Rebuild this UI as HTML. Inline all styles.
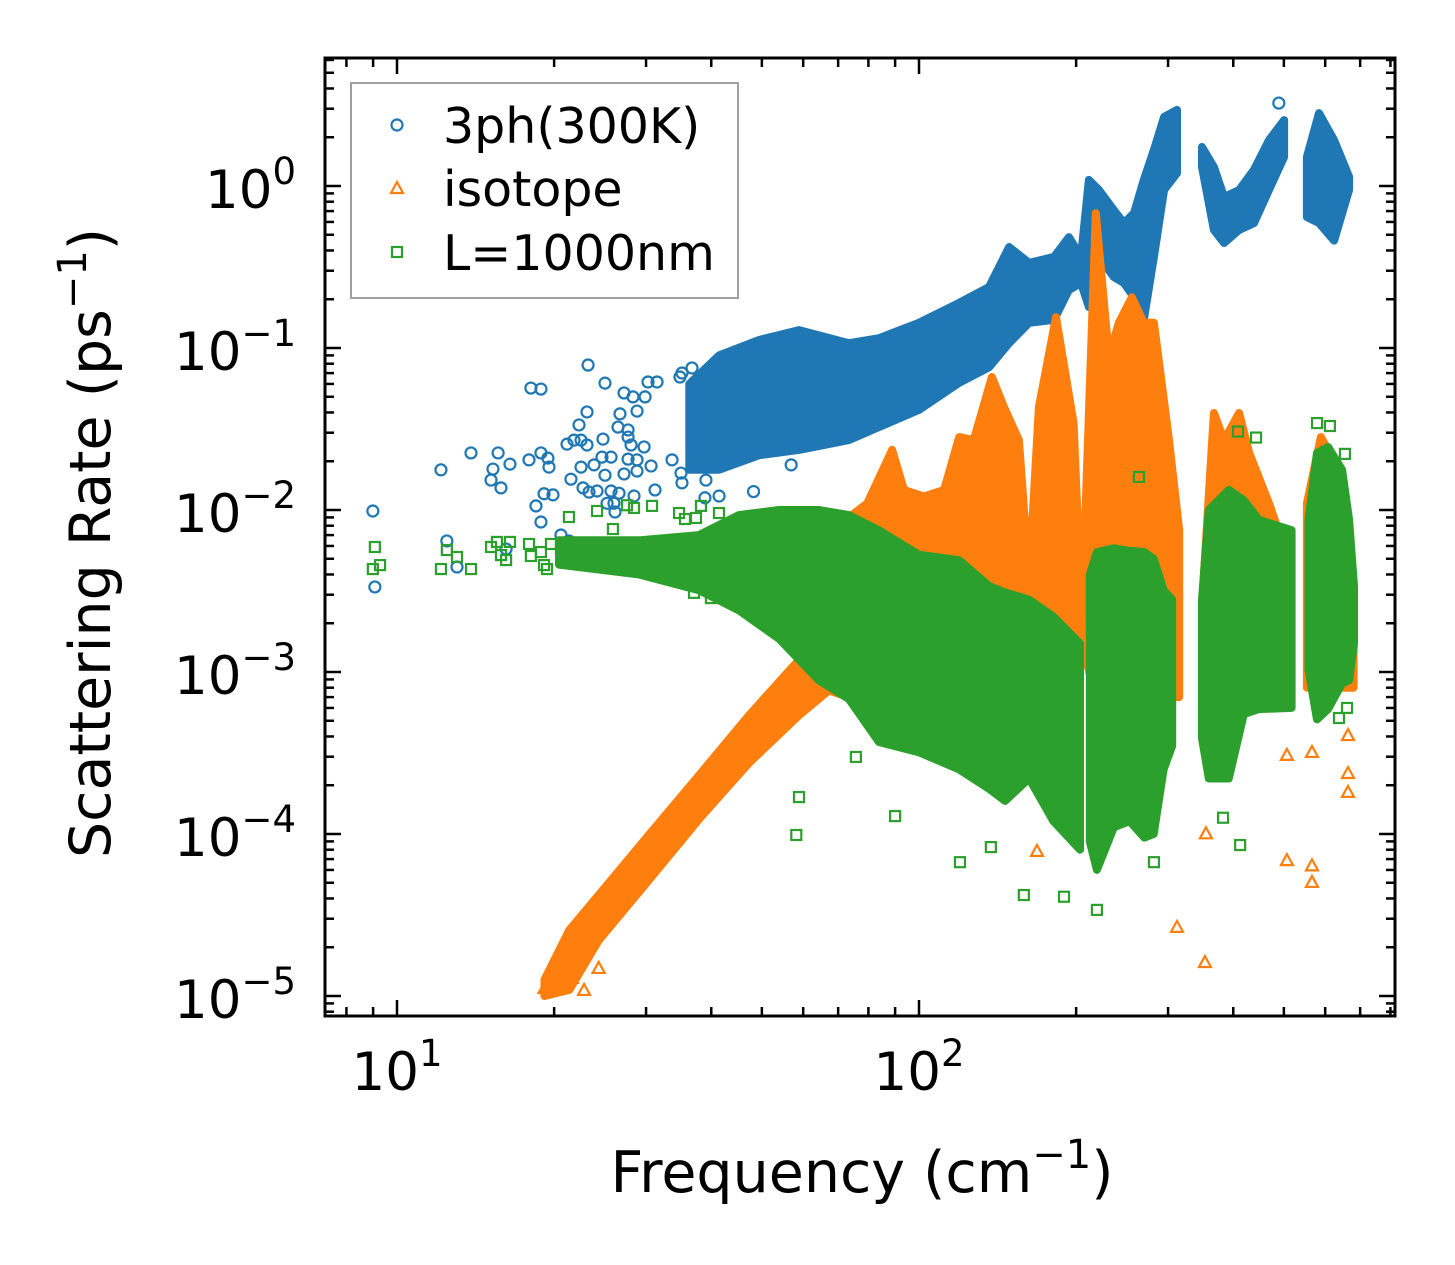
<!DOCTYPE html>
<html><head><meta charset="utf-8"><title>Scattering rate vs frequency</title>
<style>html,body{margin:0;padding:0;background:#fff}svg{display:block}text{font-family:"DejaVu Sans","Liberation Sans",sans-serif;fill:#000}</style>
</head><body>
<svg id="chart" xmlns="http://www.w3.org/2000/svg" width="1455" height="1265" viewBox="0 0 1455 1265">
<defs><clipPath id="plotclip"><rect x="325" y="58" width="1070" height="958"/></clipPath></defs>
<rect x="0" y="0" width="1455" height="1265" fill="#fff"/>
<g id="series" clip-path="url(#plotclip)"></g>
<g id="axes"></g>
<g id="legend">
<rect x="351" y="83" width="387" height="215" fill="#fff" fill-opacity="0.85" stroke="#a0a0a0" stroke-width="2"/>
<circle cx="397" cy="125" r="5.5" fill="none" stroke="#1f77b4" stroke-width="2.2"/>
<path d="M397,182 L403,193 L391,193 Z" fill="none" stroke="#ff7f0e" stroke-width="2.2"/>
<rect x="392" y="247" width="10" height="10" fill="none" stroke="#2ca02c" stroke-width="2.2"/>
<text x="443" y="143" font-size="49">3ph(300K)</text>
<text x="443" y="206" font-size="49">isotope</text>
<text x="443" y="270" font-size="49">L=1000nm</text>
</g>
<text x="862" y="1192" font-size="57" text-anchor="middle">Frequency (cm<tspan font-size="40" dy="-24">−1</tspan><tspan dy="24">)</tspan></text>
<text transform="translate(110,543) rotate(-90)" x="0" y="0" font-size="57" text-anchor="middle">Scattering Rate (ps<tspan font-size="40" dy="-24">−1</tspan><tspan dy="24">)</tspan></text>
</svg>
<script>
// ---- data ----
// 3ph(300K): dense bands (frequency, lower/upper rate) and isolated points
const blueBand1F=[36.3,41.4,49.4,58.9,73.4,83.8,99.9,119.4,136.2,148.8,162.5,181.4,193.7,204.3,211.6,221.2,236.2,246.9,258.2,269.6,281.9,294.8,312.1];
const blueBand1Hi=[0.06,0.09,0.112,0.129,0.107,0.115,0.143,0.19,0.238,0.42,0.335,0.365,0.484,0.365,1.09,0.945,0.71,0.59,0.68,1.09,1.67,2.67,2.95];
const blueBand1Lo=[0.0177,0.0177,0.0218,0.0235,0.027,0.0325,0.0414,0.061,0.076,0.107,0.143,0.149,0.228,0.252,0.179,0.365,0.274,0.252,0.206,0.149,0.365,0.945,1.2];
const blueBand2F=[348.5,367.3,384.1,410.5,438.3,468.3,500.5];
const blueBand2Hi=[1.74,1.31,0.855,0.945,1.26,1.92,2.55];
const blueBand2Lo=[1.31,0.535,0.445,0.535,0.59,0.945,1.51];
const blueBand3F=[553.6,583.9,623.9,666.8];
const blueBand3Hi=[1.51,2.82,1.92,1.14];
const blueBand3Lo=[0.644,0.59,0.46,0.945];
const bluePtF=[8.99,9.07,12.14,12.46,13.03,13.86,15.27,15.14,15.82,15.62,16.46,18.05,18.87,17.90,18.87,19.46,19.55,19.13,19.90,18.46,18.87,20.61,21.35,16.18,23.23,25.03,23.12,22.32,21.17,21.83,22.52,23.12,24.81,22.52,21.54,23.85,24.70,25.71,25.03,22.72,23.33,24.17,25.71,26.63,25.26,26.04,26.16,28.45,27.22,28.32,26.74,26.51,27.71,27.71,28.08,27.71,28.83,27.22,28.83,31.21,30.67,29.74,28.83,29.87,30.26,31.49,33.64,35.0,35.15,39.07,38.90,35.15,36.74,34.84,41.4,48.2,56.9,489];
const bluePtV=[0.00986,0.00335,0.0177,0.00644,0.00445,0.0225,0.0179,0.0153,0.0137,0.0225,0.0192,0.0566,0.0558,0.0204,0.0225,0.0209,0.0184,0.0126,0.0124,0.0106,0.00843,0.00701,0.00644,0.00574,0.0785,0.0607,0.0403,0.0335,0.0255,0.027,0.027,0.0252,0.0274,0.0184,0.0155,0.019,0.0212,0.0212,0.0164,0.0137,0.0129,0.0131,0.0131,0.0127,0.011,0.011,0.00972,0.0122,0.0528,0.0499,0.0392,0.0325,0.0312,0.0282,0.0252,0.0206,0.0204,0.0167,0.0174,0.0133,0.0187,0.0245,0.0408,0.0499,0.0617,0.0617,0.0204,0.0169,0.0147,0.0153,0.0119,0.0701,0.0753,0.0662,0.0122,0.013,0.019,3.25];
// isotope
const orangeBand1F=[19.17,21.38,24.34,30.39,37.87,47.23,58.9,67.2,73.4,79.6,88.8,93.6,102.2,111.7,119.4,127.3,137.9,145.5,155.4,162.5,169.7,183.0,197.8,205.1,218.1,231.1,241.4,255.8,269.6,281.9,301.3,315.1];
const orangeBand1Hi=[1.26e-5,2.55e-5,4.2e-5,9.9e-5,2.3e-4,5.4e-4,1.19e-3,1.82e-3,0.009,0.011,0.0235,0.0133,0.0121,0.0133,0.0282,0.027,0.0662,0.0432,0.027,0.0037,0.0432,0.155,0.0344,0.0021,0.68,0.088,0.143,0.206,0.143,0.143,0.027,0.0075];
const orangeBand1Lo=[1.0e-5,1.09e-5,2.2e-5,5.2e-5,1.23e-4,2.74e-4,5.4e-4,7.7e-4,7e-4,7e-4,7e-4,7e-4,7e-4,7e-4,7e-4,7e-4,7e-4,7e-4,7e-4,7e-4,7e-4,7e-4,7e-4,1.5e-3,7e-4,7e-4,7e-4,7e-4,7e-4,7e-4,7e-4,7e-4];
const orangeBand2F=[351.3,367.3,384.1,410.5,429.1,468.3,500.5];
const orangeBand2Hi=[0.0039,0.0397,0.027,0.0397,0.0225,0.011,0.0059];
const orangeBand2Lo=[8e-4,8e-4,8e-4,8e-4,8e-4,8e-4,8e-4];
const orangeBand3F=[553.6,588.8,637.5,666.8,680.2];
const orangeBand3Hi=[0.011,0.0282,0.0177,0.0054,0.003];
const orangeBand3Lo=[8e-4,8e-4,8e-4,8e-4,8e-4];
const orangePtF=[19.17,21.64,22.82,24.34,312.1,506.8,566.0,566.0,663.5,663.5,354.6,168.3,506.8,566.0,663.5,353.0];
const orangePtV=[1.12e-5,1.29e-5,1.09e-5,1.49e-5,2.67e-5,6.9e-5,6.4e-5,5.06e-5,2.38e-4,1.82e-4,1.01e-4,7.86e-5,3.08e-4,3.21e-4,4.08e-4,1.62e-5];
// L=1000nm boundary
const greenBand1F=[20.43,29.11,37.87,45.18,53.94,64.26,73.4,83.8,99.9,119.4,136.2,146.2,162.5,180.9,203.4];
const greenBand1Hi=[0.0065,0.0065,0.007,0.0093,0.01,0.01,0.0093,0.0075,0.0053,0.0049,0.0034,0.0031,0.0028,0.0022,0.0015];
const greenBand1Lo=[0.0046,0.004,0.0032,0.0024,0.0016,0.00089,0.00068,0.00037,0.00032,0.00025,0.00019,0.00016,0.00022,0.00012,0.00008];
const greenBand2F=[212.4,219.2,236.2,253.2,270.2,281.6,294.1,305.5];
const greenBand2Hi=[0.004,0.0055,0.0058,0.0056,0.0055,0.005,0.0032,0.0028];
const greenBand2Lo=[9e-5,6e-5,1.1e-4,1.2e-4,9.5e-5,1e-4,2.5e-4,3.5e-4];
const greenBand3F=[348.5,359.0,392.1,419.1,447.9,517.3];
const greenBand3Hi=[0.0028,0.01,0.0133,0.0115,0.0087,0.0075];
const greenBand3Lo=[0.00039,0.00022,0.00022,0.00055,0.00059,0.0006];
const greenBand4F=[557.4,578.8,607.7,646.4,666.8,681.4];
const greenBand4Hi=[0.0087,0.0225,0.0245,0.0177,0.0087,0.0034];
const greenBand4Lo=[0.00103,0.00051,0.00059,0.00085,0.00089,0.0015];
const greenPtF=[9.07,8.99,9.28,12.14,12.46,13.03,13.86,15.14,15.54,15.82,16.18,16.46,17.90,18.05,18.87,19.13,19.38,19.72,20.61,21.35,24.17,25.92,27.58,28.45,30.80,34.70,35.62,37.39,38.22,41.38,37.07,39.94,119.8,158.8,189.6,137.3,90.0,75.7,219.2,412.3,281.9,382.3,660.6,637.6,58.2,58.9,408.4,442.2,578.8,612.6,654.6,263.8];
const greenPtV=[0.00591,0.00432,0.00457,0.00432,0.00566,0.00513,0.00432,0.00591,0.00635,0.00527,0.00491,0.00635,0.00617,0.0052,0.0055,0.00457,0.00432,0.00617,0.00574,0.00905,0.00986,0.00763,0.0107,0.0103,0.0106,0.00958,0.0088,0.00893,0.0106,0.00958,0.00308,0.00286,6.7e-5,4.2e-5,4.1e-5,8.3e-5,1.29e-4,2.99e-4,3.4e-5,8.55e-5,6.7e-5,1.26e-4,6.0e-4,5.2e-4,9.86e-5,1.69e-4,0.0305,0.028,0.0344,0.033,0.0222,0.016];
// ticks
const xMajorTicks=[10,100];
const xTickLabels=["1","2"];
const yMajorTicks=[1e-5,1e-4,1e-3,1e-2,1e-1,1];
const yTickLabels=["−5","−4","−3","−2","−1","0"];

// ---- axes ----
const L=325,R=1395,T=58,B=1016;
function X(f){return 397+522*(Math.log10(f)-1);}
function Y(v){return 186-162*Math.log10(v);}
const NS="http://www.w3.org/2000/svg";
function mk(tag,attrs,parent){const e=document.createElementNS(NS,tag);for(const k in attrs)e.setAttribute(k,attrs[k]);parent.appendChild(e);return e;}
const gS=document.getElementById('series');
const gA=document.getElementById('axes');
const COL={blue:"#1f77b4",orange:"#ff7f0e",green:"#2ca02c"};

function band(F,Hi,Lo,color,name){
  const pts=[];
  for(let i=0;i<F.length;i++)pts.push(X(F[i]).toFixed(1)+","+Y(Hi[i]).toFixed(1));
  for(let i=F.length-1;i>=0;i--)pts.push(X(F[i]).toFixed(1)+","+Y(Lo[i]).toFixed(1));
  const p=mk('polygon',{points:pts.join(" "),fill:color,stroke:color,'stroke-width':8,'stroke-linejoin':'round'},gS);
  
  
}
function points(F,V,kind,color,name){
  const g=mk('g',{fill:'none',stroke:color,'stroke-width':2.2},gS);
  
  
  for(let i=0;i<F.length;i++){
    const x=X(F[i]),y=Y(V[i]);let m;
    if(kind==='c')m=mk('circle',{cx:x,cy:y,r:5.5},g);
    else if(kind==='s')m=mk('rect',{x:x-5,y:y-5,width:10,height:10},g);
    else m=mk('path',{d:`M${x},${y-6} L${x+6},${y+5} L${x-6},${y+5} Z`},g);
    
    
  }
}
band(blueBand1F,blueBand1Hi,blueBand1Lo,COL.blue,'3ph-band-low-freq');
band(blueBand2F,blueBand2Hi,blueBand2Lo,COL.blue,'3ph-band-mid');
band(blueBand3F,blueBand3Hi,blueBand3Lo,COL.blue,'3ph-band-high');
points(bluePtF,bluePtV,'c',COL.blue,'3ph-points');
band(orangeBand1F,orangeBand1Hi,orangeBand1Lo,COL.orange,'isotope-band-main');
band(orangeBand2F,orangeBand2Hi,orangeBand2Lo,COL.orange,'isotope-band-mid');
band(orangeBand3F,orangeBand3Hi,orangeBand3Lo,COL.orange,'isotope-band-high');
points(orangePtF,orangePtV,'t',COL.orange,'isotope-points');
band(greenBand1F,greenBand1Hi,greenBand1Lo,COL.green,'boundary-band-main');
band(greenBand2F,greenBand2Hi,greenBand2Lo,COL.green,'boundary-band-2');
band(greenBand3F,greenBand3Hi,greenBand3Lo,COL.green,'boundary-band-3');
band(greenBand4F,greenBand4Hi,greenBand4Lo,COL.green,'boundary-band-4');
points(greenPtF,greenPtV,'s',COL.green,'boundary-points');

function tick(x1,y1,x2,y2,name){const t=mk('line',{x1:x1,y1:y1,x2:x2,y2:y2,stroke:'#000','stroke-width':2.5},gA);}
for(let d=0;d<=2;d++){for(let k=1;k<=9;k++){const f=k*Math.pow(10,d);const x=X(f);if(x<L+1||x>R-1)continue;const major=(k===1);const len=major?16:9;tick(x,B,x,B-len,major?'x-major-tick':'x-minor-tick');tick(x,T,x,T+len,major?'x-major-tick-top':'x-minor-tick-top');}}
for(let d=-6;d<=0;d++){for(let k=1;k<=9;k++){const v=k*Math.pow(10,d);const y=Y(v);if(y<T+1||y>B-1)continue;const major=(k===1);const len=major?16:9;tick(L,y,L+len,y,major?'y-major-tick':'y-minor-tick');tick(R,y,R-len,y,major?'y-major-tick-right':'y-minor-tick-right');}}
const frame=mk('rect',{x:L,y:T,width:R-L,height:B-T,fill:'none',stroke:'#000','stroke-width':3},gA);


for(let i=0;i<xMajorTicks.length;i++){
  const x=X(xMajorTicks[i]);
  const t=mk('text',{x:x,y:1090,'font-size':53,'text-anchor':'middle'},gA);
  
  
  t.appendChild(document.createTextNode('10'));
  const s=mk('tspan',{'font-size':37,dy:-24},t);s.textContent=xTickLabels[i];
}
for(let i=0;i<yMajorTicks.length;i++){
  const y=Y(yMajorTicks[i]);
  const t=mk('text',{x:296,y:y+22,'font-size':53,'text-anchor':'end'},gA);
  
  
  t.appendChild(document.createTextNode('10'));
  const s=mk('tspan',{'font-size':37,dy:-24},t);s.textContent=yTickLabels[i];
}
</script>
</body></html>
